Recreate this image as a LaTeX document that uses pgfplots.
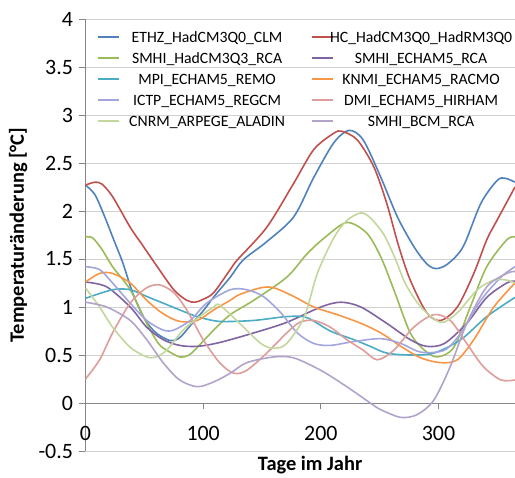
\documentclass[border=0pt]{standalone}
\usepackage{fontspec}
\setmainfont{Carlito}
\usepackage{pgfplots}
\pgfplotsset{compat=1.18}

\definecolor{axisgray}{RGB}{134,134,134}
\definecolor{gridgray}{RGB}{210,210,210}
\definecolor{cEthz}{HTML}{4F81BD}
\definecolor{cHc}{HTML}{C0504D}
\definecolor{cHadRca}{HTML}{9BBB59}
\definecolor{cEchRca}{HTML}{8064A2}
\definecolor{cMpi}{HTML}{4BACC6}
\definecolor{cKnmi}{HTML}{F79646}
\definecolor{cIctp}{HTML}{A3A6DC}
\definecolor{cDmi}{HTML}{DE9C9A}
\definecolor{cCnrm}{HTML}{C3D69B}
\definecolor{cBcm}{HTML}{B1A3C9}

\newcommand{\lbl}[1]{\makebox[172bp]{\rule[-5bp]{0pt}{18.5bp}#1}}

\begin{document}
\begin{tikzpicture}
\begin{axis}[
    scale only axis,
    width=429.5bp, height=432bp,
    xmin=0, xmax=365, ymin=-0.5, ymax=4,
    axis y line*=left, axis x line*=middle,
    axis line style={draw=axisgray, line width=0.8bp, -},
    hide obscured x ticks=false, hide obscured y ticks=false,
    xtick={0,100,200,300}, xticklabels={0,100,200,300},
    ytick={-0.5,0,0.5,1,1.5,2,2.5,3,3.5,4},
    yticklabels={-0.5,0,0.5,1,1.5,2,2.5,3,3.5,4},
    tick align=outside, major tick length=6bp,
    tick style={draw=axisgray, line width=0.8bp},
    ymajorgrids, grid style={draw=gridgray, line width=0.9bp},
    ticklabel style={font=\fontsize{22}{24}\selectfont},
    xticklabel style={anchor=center, yshift=-24bp},
    yticklabel style={xshift=-3bp},
    xlabel={\textbf{Tage im Jahr}},
    ylabel={\textbf{Temperaturänderung [°C]}},
    label style={font=\fontsize{20.5}{22}\selectfont},
    xlabel style={at={(axis description cs:0.523,-0.032)}, anchor=center},
    ylabel style={at={(axis description cs:-0.157,0.5)}, anchor=center},
    legend columns=2,
    legend style={at={(rel axis cs:0.027,0.979)}, anchor=north west,
        inner sep=0pt, outer sep=0pt,
        draw=none, fill=none, font=\fontsize{15.8}{19}\selectfont,
        nodes={inner sep=1bp}, row sep=4bp,
        /tikz/every even column/.append style={column sep=17bp}},
    legend image code/.code={\draw[#1,line width=2bp] (0bp,0bp) -- (21bp,0bp);},
    every axis plot/.append style={smooth, line width=1.6bp, no markers},
]
\coordinate (sw) at (rel axis cs:0,0);
\coordinate (ne) at (rel axis cs:1,1);

% ETHZ_HadCM3Q0_CLM
\addplot[cEthz] coordinates {
(0,2.27) (8,2.17) (16,1.95) (24,1.70) (32,1.45) (40,1.15) (50,0.88) (60,0.73)
(72,0.65) (80,0.68) (90,0.82) (100,0.96) (110,1.12) (123,1.31) (134,1.49)
(154,1.68) (177,1.94) (194,2.35) (211,2.71) (224,2.84) (236,2.74) (251,2.35)
(265,1.94) (279,1.63) (290,1.45) (298,1.40) (308,1.45) (321,1.63) (336,2.08)
(350,2.32) (357,2.34) (365,2.30)};
\addlegendentry{\lbl{ETHZ\_HadCM3Q0\_CLM}}
% HC_HadCM3Q0_HadRM3Q0
\addplot[cHc] coordinates {
(0,2.27) (8,2.30) (14,2.28) (23,2.15) (38,1.83) (47,1.67) (52,1.58) (61,1.42)
(75,1.18) (86,1.07) (93,1.05) (100,1.08) (109,1.15) (123,1.39) (129,1.49)
(154,1.83) (177,2.29) (194,2.64) (211,2.81) (218,2.83) (231,2.74) (245,2.46)
(256,2.08) (266,1.64) (276,1.28) (290,0.94) (302,0.86) (316,1.00) (330,1.35)
(341,1.70) (350,1.91) (365,2.25)};
\addlegendentry{\lbl{HC\_HadCM3Q0\_HadRM3Q0}}
% SMHI_HadCM3Q3_RCA
\addplot[cHadRca] coordinates {
(0,1.73) (6,1.72) (14,1.60) (23,1.42) (38,1.18) (52,0.83) (62,0.62) (69,0.55)
(80,0.48) (88,0.50) (95,0.58) (109,0.76) (123,0.92) (143,1.07) (171,1.31)
(188,1.55) (203,1.72) (222,1.88) (239,1.77) (251,1.52) (262,1.18) (276,0.73)
(288,0.55) (299,0.48) (313,0.58) (327,1.00) (341,1.42) (358,1.70) (365,1.73)};
\addlegendentry{\lbl{SMHI\_HadCM3Q3\_RCA}}
% SMHI_ECHAM5_RCA
\addplot[cEchRca] coordinates {
(0,1.26) (18,1.21) (38,1.00) (52,0.79) (66,0.66) (80,0.60) (95,0.59) (114,0.63)
(143,0.73) (171,0.84) (200,1.00) (217,1.05) (234,1.00) (256,0.83) (276,0.66)
(290,0.59) (305,0.62) (324,0.83) (341,1.10) (358,1.25) (365,1.27)};
\addlegendentry{\lbl{SMHI\_ECHAM5\_RCA}}
% MPI_ECHAM5_REMO
\addplot[cMpi] coordinates {
(0,1.09) (23,1.18) (38,1.18) (52,1.11) (66,1.04) (80,0.97) (95,0.90) (114,0.85)
(143,0.86) (171,0.90) (188,0.89) (208,0.75) (228,0.66) (242,0.59) (256,0.52)
(276,0.50) (296,0.52) (319,0.66) (341,0.90) (365,1.10)};
\addlegendentry{\lbl{MPI\_ECHAM5\_REMO}}
% KNMI_ECHAM5_RACMO
\addplot[cKnmi] coordinates {
(0,1.26) (12,1.35) (23,1.35) (38,1.25) (52,1.07) (66,0.93) (80,0.85) (95,0.86)
(109,0.97) (123,1.07) (131,1.13) (149,1.20) (160,1.20) (177,1.11) (194,1.00)
(214,0.92) (234,0.83) (251,0.73) (268,0.59) (285,0.47) (302,0.42) (316,0.45)
(330,0.66) (347,1.00) (365,1.25)};
\addlegendentry{\lbl{KNMI\_ECHAM5\_RACMO}}
% ICTP_ECHAM5_REGCM
\addplot[cIctp] coordinates {
(0,1.42) (12,1.39) (23,1.25) (38,1.04) (52,0.86) (66,0.76) (75,0.76) (89,0.86)
(103,1.04) (123,1.18) (137,1.18) (151,1.11) (166,0.94) (180,0.73) (194,0.62)
(208,0.60) (228,0.64) (251,0.67) (268,0.62) (285,0.53) (305,0.55) (319,0.73)
(336,1.07) (353,1.31) (365,1.42)};
\addlegendentry{\lbl{ICTP\_ECHAM5\_REGCM}}
% DMI_ECHAM5_HIRHAM
\addplot[cDmi] coordinates {
(0,0.25) (12,0.45) (23,0.73) (38,1.04) (52,1.20) (63,1.23) (75,1.15) (86,0.97)
(100,0.66) (114,0.42) (126,0.31) (137,0.34) (154,0.52) (171,0.73) (182,0.84)
(194,0.86) (208,0.79) (222,0.66) (236,0.55) (248,0.45) (262,0.55) (279,0.79)
(296,0.92) (310,0.86) (324,0.62) (338,0.38) (353,0.24) (365,0.24)};
\addlegendentry{\lbl{DMI\_ECHAM5\_HIRHAM}}
% CNRM_ARPEGE_ALADIN
\addplot[cCnrm] coordinates {
(0,1.20) (12,1.00) (23,0.79) (38,0.58) (52,0.48) (60,0.48) (69,0.55) (83,0.76)
(97,0.90) (109,1.00) (114,1.02) (131,0.83) (149,0.62) (160,0.57) (171,0.62)
(186,0.90) (197,1.35) (211,1.72) (222,1.90) (234,1.98) (242,1.93) (251,1.80)
(256,1.70) (264,1.48) (272,1.24) (285,1.00) (302,0.84) (316,0.94) (333,1.18)
(347,1.28) (358,1.28) (365,1.25)};
\addlegendentry{\lbl{CNRM\_ARPEGE\_ALADIN}}
% SMHI_BCM_RCA
\addplot[cBcm] coordinates {
(0,1.05) (18,1.00) (38,0.86) (52,0.66) (66,0.42) (80,0.24) (95,0.17) (109,0.22)
(123,0.31) (137,0.42) (160,0.48) (177,0.47) (200,0.34) (222,0.17) (242,0.00)
(251,-0.07) (268,-0.15) (282,-0.12) (296,0.03) (310,0.38) (324,0.83) (341,1.21)
(358,1.35) (365,1.37)};
\addlegendentry{\lbl{SMHI\_BCM\_RCA}}
\end{axis}
\pgfresetboundingbox
\useasboundingbox ([xshift=-85.5bp,yshift=-27bp]sw) rectangle ([yshift=19bp]ne);
\end{tikzpicture}
\end{document}
